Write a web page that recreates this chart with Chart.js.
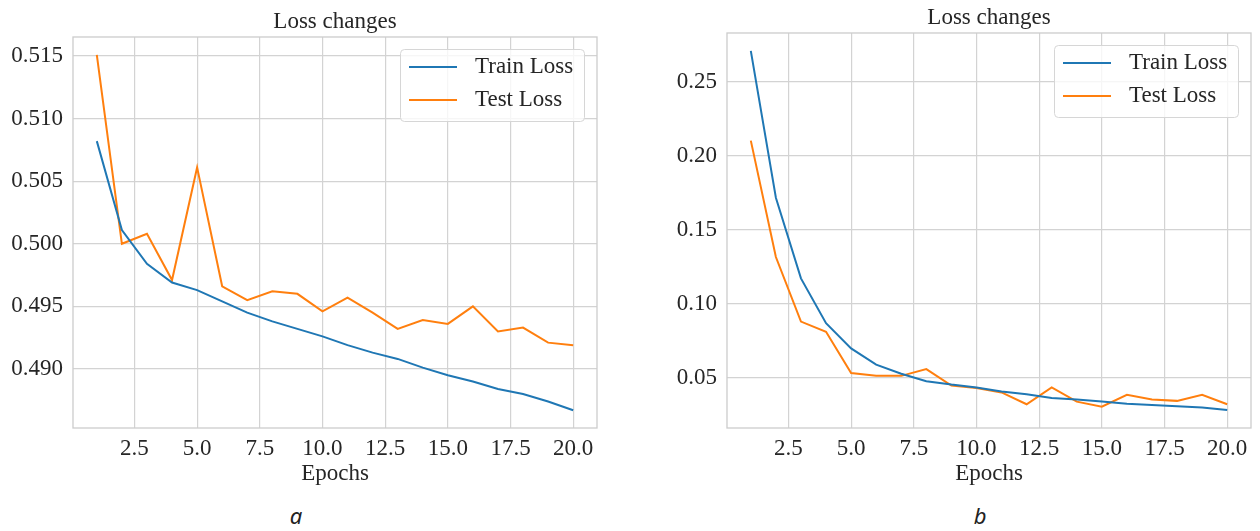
<!DOCTYPE html>
<html>
<head>
<meta charset="utf-8">
<script src="https://cdn.jsdelivr.net/npm/chart.js@4.4.1/dist/chart.umd.min.js"></script>
<style>
  body { margin: 0; background: #fff; width: 1260px; height: 531px; position: relative; overflow: hidden; }
  canvas { position: absolute; top: 0; }
  #chartA { left: 0; }
  #chartB { left: 640px; }
  .caption { position: absolute; top: 504px; font-family: "Noto Sans"; font-style: italic; font-size: 22px; line-height: 22px; color: #222; transform: translateX(-50%); }
</style>
</head>
<body>
<canvas id="chartA" width="610" height="488"></canvas>
<canvas id="chartB" width="620" height="488"></canvas>
<div class="caption" style="left:296px">a</div>
<div class="caption" style="left:980px">b</div>
<script>
// Data
const epochs = [1, 2, 3, 4, 5, 6, 7, 8, 9, 10, 11, 12, 13, 14, 15, 16, 17, 18, 19, 20];

const trainLossA = [0.5082, 0.5011, 0.4984, 0.4969, 0.4963, 0.4954, 0.4945, 0.4938, 0.4932, 0.4926,
                    0.4919, 0.4913, 0.4908, 0.4901, 0.4895, 0.4890, 0.4884, 0.4880, 0.4874, 0.4867];
const testLossA  = [0.5151, 0.5000, 0.5008, 0.4971, 0.5061, 0.4966, 0.4955, 0.4962, 0.4960, 0.4946,
                    0.4957, 0.4945, 0.4932, 0.4939, 0.4936, 0.4950, 0.4930, 0.4933, 0.4921, 0.4919];

const trainLossB = [0.2707, 0.1715, 0.1170, 0.0867, 0.0697, 0.0587, 0.0525, 0.0475, 0.0452, 0.0433,
                    0.0406, 0.0387, 0.0362, 0.0351, 0.0337, 0.0323, 0.0314, 0.0305, 0.0298, 0.0280];
const testLossB  = [0.2101, 0.1314, 0.0878, 0.0809, 0.0530, 0.0511, 0.0511, 0.0557, 0.0445, 0.0429,
                    0.0399, 0.0319, 0.0433, 0.0337, 0.0303, 0.0383, 0.0351, 0.0342, 0.0383, 0.0319];

const xTicks  = [2.5, 5.0, 7.5, 10.0, 12.5, 15.0, 17.5, 20.0];
const yTicksA = [0.490, 0.495, 0.500, 0.505, 0.510, 0.515];
const yTicksB = [0.05, 0.10, 0.15, 0.20, 0.25];

const seriesNames = ['Train Loss', 'Test Loss'];
const seriesColors = ['#1f77b4', '#ff7f0e'];

const textColor = '#262626';
const gridColor = '#d3d3d3';
const serif = '"Liberation Serif", "Times New Roman", serif';

// frame round the plot area, like the seaborn spines
const frame = {
  id: 'frame',
  beforeDatasetsDraw(chart) {
    const { ctx, chartArea: a } = chart;
    ctx.save();
    ctx.strokeStyle = '#cccccc';
    ctx.lineWidth = 1.3;
    ctx.strokeRect(a.left, a.top, a.right - a.left, a.bottom - a.top);
    ctx.restore();
  }
};

// legend box in the upper right corner, inside the axes
const boxLegend = {
  id: 'boxLegend',
  afterDatasetsDraw(chart) {
    const { ctx, chartArea } = chart;
    const w = 184, h = 72;
    const bx = chartArea.right - 13 - w;
    const by = chartArea.top + 12;
    ctx.save();
    ctx.beginPath();
    ctx.roundRect(bx + 0.5, by + 0.5, w, h, 4);
    ctx.fillStyle = 'rgba(255,255,255,0.8)';
    ctx.fill();
    ctx.strokeStyle = '#d6d6d6';
    ctx.lineWidth = 1;
    ctx.stroke();
    chart.data.datasets.forEach((ds, i) => {
      const y = by + 18 + i * 33;
      ctx.strokeStyle = ds.borderColor;
      ctx.lineWidth = 2;
      ctx.beginPath();
      ctx.moveTo(bx + 9, y);
      ctx.lineTo(bx + 57, y);
      ctx.stroke();
      ctx.fillStyle = textColor;
      ctx.font = '23px ' + serif;
      ctx.textBaseline = 'middle';
      ctx.fillText(ds.label, bx + 75, y);
    });
    ctx.restore();
  }
};

function makeChart(id, train, test, yTicks, yDigits, yAxisWidth, titleTop, padRight) {
  const all = train.concat(test);
  const lo = Math.min(...all), hi = Math.max(...all);
  const yPad = (hi - lo) * 0.05;
  const xPad = (epochs[epochs.length - 1] - epochs[0]) * 0.05;

  const datasets = [train, test].map((vals, i) => ({
    label: seriesNames[i],
    data: epochs.map((e, j) => ({ x: e, y: vals[j] })),
    borderColor: seriesColors[i],
    backgroundColor: seriesColors[i],
    borderWidth: 2,
    pointRadius: 0,
    tension: 0
  }));

  return new Chart(document.getElementById(id), {
    type: 'line',
    data: { datasets: datasets },
    plugins: [frame, boxLegend],
    options: {
      responsive: false,
      animation: false,
      devicePixelRatio: 1,
      layout: { padding: { left: 0, right: padRight, top: 0, bottom: 0 } },
      plugins: {
        legend: { display: false },
        tooltip: { enabled: false },
        title: {
          display: true,
          text: 'Loss changes',
          fullSize: false,
          color: textColor,
          font: { family: serif, size: 23, weight: 'normal' },
          padding: { top: titleTop, bottom: 1.4 }
        }
      },
      scales: {
        x: {
          type: 'linear',
          min: epochs[0] - xPad,
          max: epochs[epochs.length - 1] + xPad,
          afterBuildTicks: scale => { scale.ticks = xTicks.map(v => ({ value: v })); },
          afterFit: scale => { scale.height = 60; },
          grid: { color: gridColor, lineWidth: 1.2, drawTicks: false },
          border: { display: false },
          ticks: {
            color: textColor,
            padding: 7,
            maxRotation: 0,
            font: { family: serif, size: 23 },
            callback: v => Number(v).toFixed(1)
          },
          title: {
            display: true,
            text: 'Epochs',
            color: textColor,
            font: { family: serif, size: 23 },
            padding: { top: 0, bottom: 0 }
          }
        },
        y: {
          type: 'linear',
          min: lo - yPad,
          max: hi + yPad,
          afterBuildTicks: scale => { scale.ticks = yTicks.map(v => ({ value: v })); },
          afterFit: scale => { scale.width = yAxisWidth; },
          grid: { color: gridColor, lineWidth: 1.2, drawTicks: false },
          border: { display: false },
          ticks: {
            color: textColor,
            padding: 10,
            font: { family: serif, size: 23 },
            callback: v => Number(v).toFixed(yDigits)
          }
        }
      }
    }
  });
}

makeChart('chartA', trainLossA, testLossA, yTicksA, 3, 73, 8, 13);
makeChart('chartB', trainLossB, testLossB, yTicksB, 2, 87, 4, 9);
</script>
</body>
</html>
